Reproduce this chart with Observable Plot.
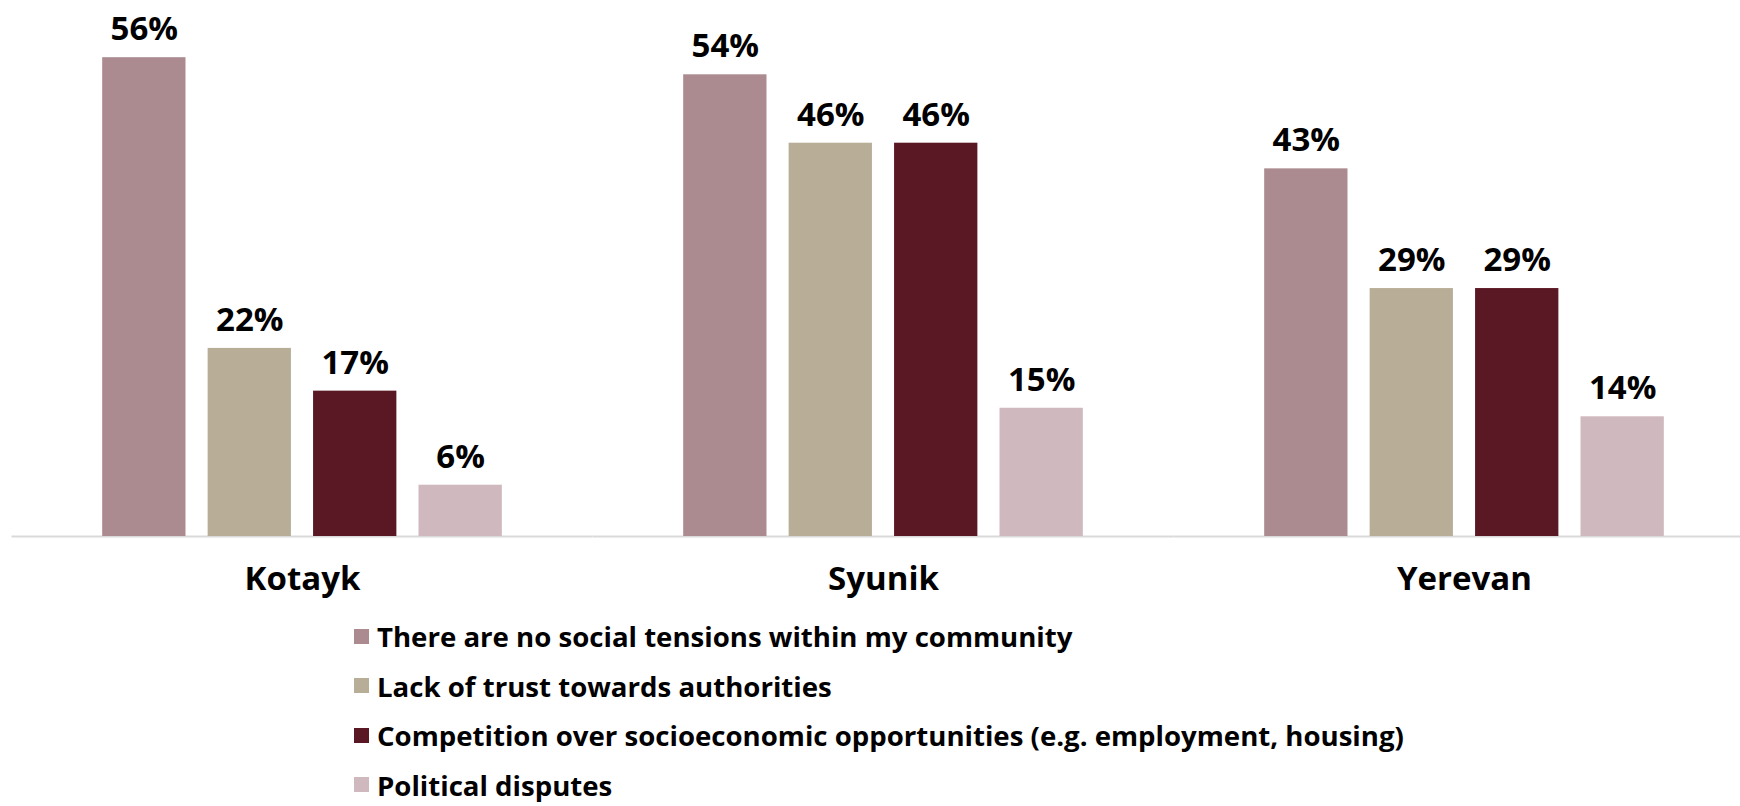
<!DOCTYPE html>
<html>
<head>
<meta charset="utf-8">
<script src="https://cdn.jsdelivr.net/npm/d3@7"></script>
<script src="https://cdn.jsdelivr.net/npm/@observablehq/plot@0.6"></script>
<style>
  html, body { margin: 0; padding: 0; background: #fff; overflow: hidden; }
  body { width: 1740px; height: 806px; font-family: "Open Sans", sans-serif; }
  #chart svg { display: block; }
  #legend { margin-left: 354px; padding-top: 22px; }
  .row { height: 28px; line-height: 28px; margin-bottom: 21.5px; display: flex; align-items: center; font-weight: 700; font-size: 27.6px; color: #000; }
  .row:last-child { margin-bottom: 0; }
  .sw { width: 15px; height: 15px; margin-right: 8px; flex: none; }
</style>
</head>
<body>
<div id="chart"></div>
<div id="legend"></div>
<script>
const regions = ["Kotayk", "Syunik", "Yerevan"];
const series = [
  "There are no social tensions within my community",
  "Lack of trust towards authorities",
  "Competition over socioeconomic opportunities (e.g. employment, housing)",
  "Political disputes"
];
const colors = ["#AB8A90", "#B8AE98", "#5A1724", "#CFB8BE"];
const noTensions = [56, 54, 43];
const lackOfTrust = [22, 46, 29];
const competition = [17, 46, 29];
const political = [6, 15, 14];

const seriesValues = [noTensions, lackOfTrust, competition, political];
const data = [];
regions.forEach((r, i) => {
  series.forEach((s, j) => data.push({region: r, series: s, value: seriesValues[j][i]}));
});

const chart = Plot.plot({
  width: 1740,
  height: 600,
  marginTop: 23,
  marginBottom: 64,
  marginLeft: 10,
  marginRight: 0,
  style: {fontFamily: "Open Sans", background: "#fff"},
  fx: {domain: regions, range: [11.5, 1754.5], padding: 0, round: false, axis: null},
  x: {domain: series, paddingInner: 0.21, paddingOuter: 0.86, round: false, axis: null},
  y: {domain: [0, 60], axis: null},
  color: {domain: series, range: colors},
  marks: [
    Plot.ruleY([0], {stroke: "#D9D9D9", strokeWidth: 2}),
    Plot.barY(data, {fx: "region", x: "series", y: "value", fill: "series"}),
    Plot.text(data, {fx: "region", x: "series", y: "value", text: d => d.value + "%", dy: -28,
      lineAnchor: "middle", fontSize: 33, fontWeight: "bold", fill: "#000"}),
    Plot.text(regions, {fx: d => d, text: d => d, frameAnchor: "bottom", dy: 43,
      lineAnchor: "middle", fontSize: 33, fontWeight: "bold", fill: "#000"})
  ]
});
document.getElementById("chart").appendChild(chart);

const legend = document.getElementById("legend");
series.forEach((s, j) => {
  const row = document.createElement("div");
  row.className = "row";
  const sw = document.createElement("span");
  sw.className = "sw";
  sw.style.background = colors[j];
  row.appendChild(sw);
  row.appendChild(document.createTextNode(s));
  legend.appendChild(row);
});
</script>
</body>
</html>
